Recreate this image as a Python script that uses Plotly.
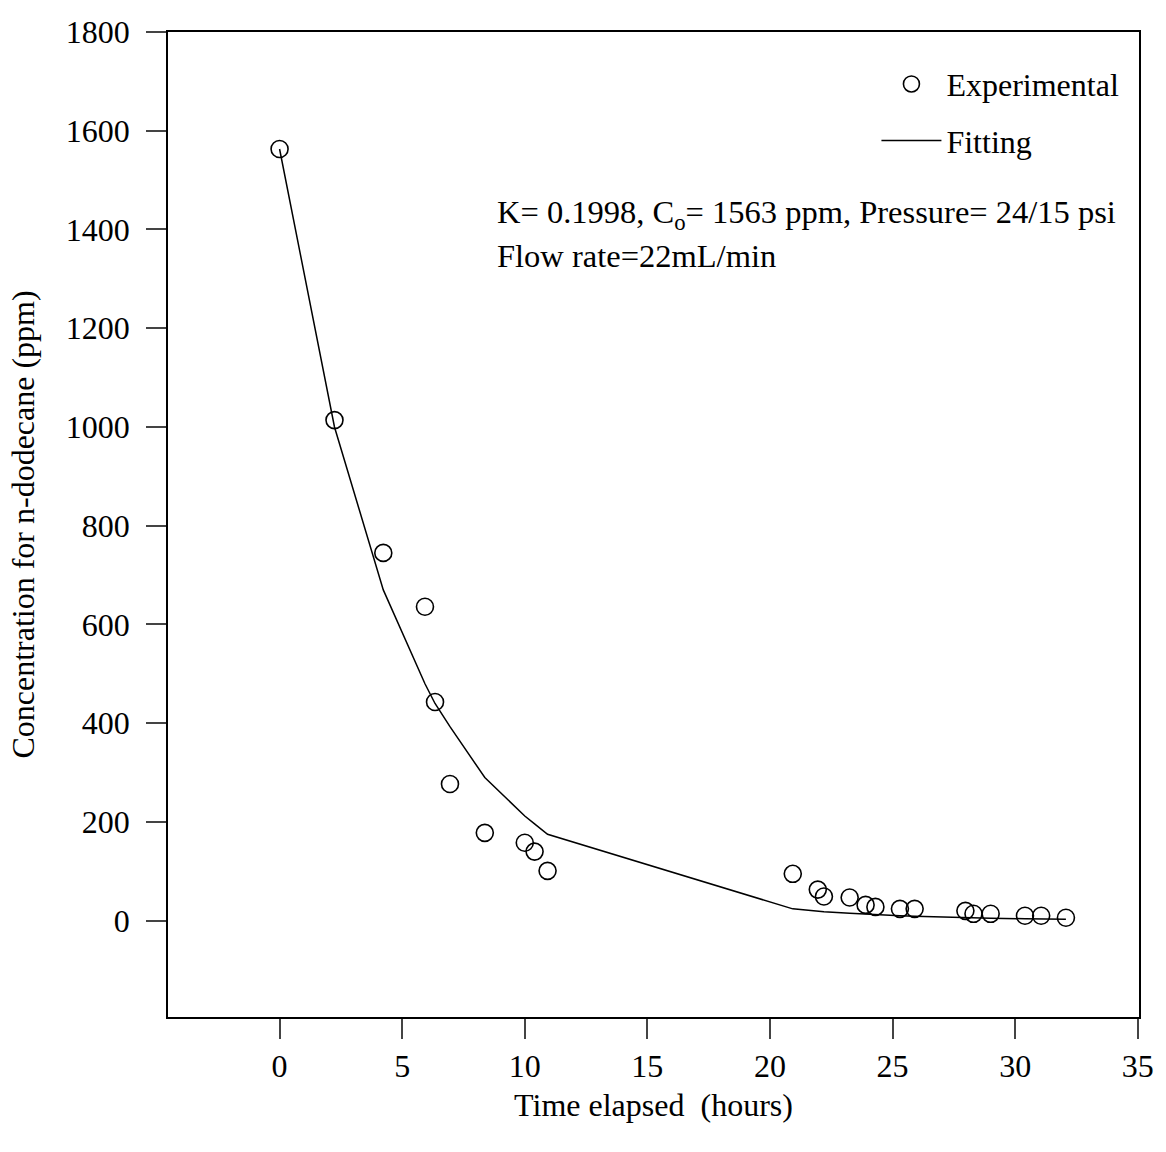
import plotly.graph_objects as go

exp_time = [0, 2.24, 4.23, 5.93, 6.34, 6.95, 8.37, 10.0, 10.4, 10.93, 20.93, 21.95, 22.2,
            23.25, 23.9, 24.3, 25.3, 25.9, 27.97, 28.3, 29.0, 30.4, 31.06, 32.07]
exp_conc = [1563, 1014, 745, 636, 443, 277, 178, 158, 140, 101, 95, 63, 49,
            47, 32, 28, 24, 24, 20, 14, 14, 10, 10, 6]

# Fitting curve
fit_time = [0, 2.24, 4.23, 5.93, 6.34, 6.95, 8.37, 10.0, 10.4, 10.93, 20.93, 21.95, 22.2,
            23.25, 23.9, 24.3, 25.3, 25.9, 27.97, 28.3, 29.0, 30.4, 31.06, 32.07]
fit_conc = [1563, 1000, 670, 480, 440, 393, 290, 212, 196, 175, 24, 19, 18,
            15, 13, 12, 10, 9, 6, 5.5, 5, 4, 3.5, 3]

x_ticks = [0, 5, 10, 15, 20, 25, 30, 35]
y_ticks = [0, 200, 400, 600, 800, 1000, 1200, 1400, 1600, 1800]

FONT = "Liberation Serif"

fig = go.Figure()
fig.add_trace(go.Scatter(
    x=exp_time, y=exp_conc, mode="markers", name="Experimental", legendgroup="a",
    marker=dict(symbol="circle-open", size=17, color="black", line=dict(width=1.6, color="black")),
))
fig.add_trace(go.Scatter(
    x=fit_time, y=fit_conc, mode="lines", name="Fitting", legendgroup="b",
    line=dict(color="black", width=1.5),
))

fig.update_layout(
    width=1166, height=1152,
    margin=dict(l=168, r=21, t=32, b=135),
    paper_bgcolor="white", plot_bgcolor="white",
    font=dict(family=FONT, size=32, color="black"),
    showlegend=True,
    legend=dict(
        x=0.985, y=0.975, xanchor="right", yanchor="top",
        bgcolor="rgba(0,0,0,0)", font=dict(size=32, family=FONT),
        itemwidth=60, tracegroupgap=12,
    ),
    annotations=[
        dict(text="K= 0.1998, C<sub>o</sub>= 1563 ppm, Pressure= 24/15 psi",
             xref="paper", yref="paper", x=(497 - 168) / 977, y=1 - (215 - 32) / 985,
             xanchor="left", yanchor="middle", showarrow=False,
             font=dict(size=32.5, family=FONT)),
        dict(text="Flow rate=22mL/min",
             xref="paper", yref="paper", x=(497 - 168) / 977, y=1 - (256 - 32) / 985,
             xanchor="left", yanchor="middle", showarrow=False,
             font=dict(size=32.5, family=FONT)),
    ],
)

fig.update_xaxes(
    range=[-4.55, 35.05], tickvals=x_ticks, ticks="outside", ticklen=20, tickwidth=1.5,
    showline=True, linecolor="black", linewidth=1.5, mirror=True,
    showgrid=False, zeroline=False, ticklabelstandoff=0,
    title=dict(text="Time elapsed  (hours)", standoff=10, font=dict(size=32)),
)
fig.update_yaxes(
    range=[-195, 1800], tickvals=y_ticks, ticks="outside", ticklen=20, tickwidth=1.5,
    showline=True, linecolor="black", linewidth=1.5, mirror=True,
    showgrid=False, zeroline=False, ticklabelstandoff=10,
    title=dict(text="Concentration for n-dodecane (ppm)", standoff=22, font=dict(size=32)),
)

fig.write_html("out.html")
